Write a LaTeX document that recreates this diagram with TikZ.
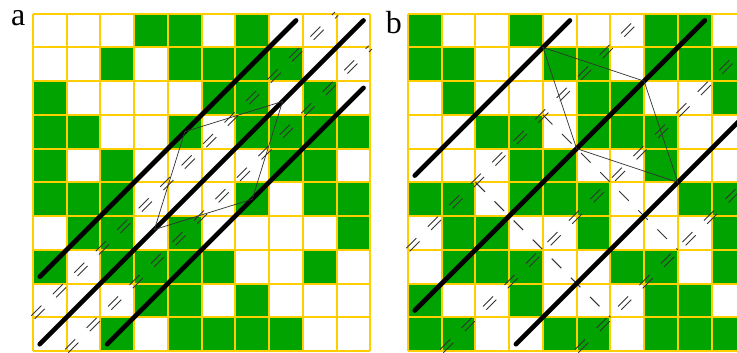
\documentclass[tikz,border=0pt]{standalone}
\usepackage{fontspec}
\setmainfont{Liberation Serif}
\definecolor{cellgreen}{RGB}{0,163,0}
\definecolor{gridgold}{RGB}{255,206,0}
\usetikzlibrary{calc}
\tikzset{
  gridline/.style={gridgold, line width=1.7pt},
  axisline/.style={black, line width=3.9pt, line cap=round},
  cellline/.style={black!80, line width=0.6pt},
  glidestroke/.style={black!80, line width=0.75pt, dash pattern=on 0.42cm off 0.48cm},
  crossline/.style={black!80, line width=0.75pt, dash pattern=on 0.4cm off 0.4cm},
  panellabel/.style={font=\fontsize{27}{27}\selectfont, anchor=base}
}
% pair of dashed strokes either side of a 45 degree line
\newcommand{\glidepair}[2]{%
  \draw[glidestroke, shift={(-0.048,0.048)}] #1 -- #2;
  \draw[glidestroke, shift={(0.048,-0.048)}] #1 -- #2;}

\begin{document}
\begin{tikzpicture}
\useasboundingbox (0,0) rectangle (21.85,10.436);
\clip (0,0) rectangle (21.85,10.436);

\node[panellabel] (lbla) at (0.54,9.69) {a};
\node[panellabel] (lblb) at (11.68,9.45) {b};

% panel a
\begin{scope}[shift={(0.978,0.03)}]
  \foreach [count=\r from 0] \bits in {
    {0,0,0,1,1,0,1,0,0,0},{0,0,1,0,1,1,1,1,0,0},{1,0,0,0,0,1,1,0,1,0},
    {1,1,0,0,1,0,1,1,1,1},{1,0,1,0,0,0,0,1,1,0},{1,1,1,0,0,0,1,0,1,1},
    {0,1,1,0,1,0,0,0,0,1},{1,0,1,1,1,1,0,0,1,0},{0,0,0,1,1,0,1,0,0,0},
    {0,0,1,0,1,1,1,1,0,0}}
    \foreach [count=\c from 0] \v in \bits
      {\ifnum\v=1 \fill[cellgreen] (\c,{9-\r}) rectangle ++(1,1);\fi}
  \draw[gridline] (0,0) grid (10,10);
  \glidepair{(0,1)}{(9,10)}
  \glidepair{(1,0)}{(10,9)}
  \draw[axisline] (0.2,2.2) -- (7.8,9.8);
  \draw[axisline] (0.2,0.2) -- (9.8,9.8);
  \draw[axisline] (2.2,0.2) -- (9.8,7.8);
  \coordinate (qa) at (3.6,3.6);
  \coordinate (qb) at (4.5,6.5);
  \coordinate (qc) at (7.4,7.4);
  \coordinate (qd) at (6.5,4.5);
  \draw[cellline] (qa) -- (qb) -- (qc) -- (qd) -- cycle;
\end{scope}

% panel b
\begin{scope}[shift={(12.096,0.03)}]
  \foreach [count=\r from 0] \bits in {
    {1,0,0,1,0,0,0,1,1,0},{1,1,0,0,1,1,0,1,1,1},{0,1,0,0,0,1,1,0,0,1},
    {0,0,1,1,0,1,1,1,0,0},{0,0,0,1,1,0,0,1,0,0},{1,1,0,1,1,1,0,0,1,1},
    {0,1,1,0,0,1,0,0,0,1},{0,1,1,1,0,0,1,1,0,1},{1,0,0,1,0,0,0,1,1,0},
    {1,1,0,0,1,1,0,1,1,1}}
    \foreach [count=\c from 0] \v in \bits
      {\ifnum\v=1 \fill[cellgreen] (\c,{9-\r}) rectangle ++(1,1);\fi}
  \draw[gridline] (0,0) grid (10,10);
  \glidepair{(0,3)}{(7,10)}
  \glidepair{(1,0)}{(10,9)}
  \glidepair{(5,0)}{(10,5)}
  \draw[crossline] (2,5) -- (6,1);
  \draw[crossline] (4,7) -- (8,3);
  \draw[axisline] (0.2,5.2) -- (4.8,9.8);
  \draw[axisline] (0.2,1.2) -- (8.8,9.8);
  \draw[axisline] (3.2,0.2) -- (12.8,9.8);
  \coordinate (ra) at (4,9);
  \coordinate (rb) at (7,8);
  \coordinate (rc) at (8,5);
  \coordinate (rd) at (5,6);
  \draw[cellline] (ra) -- (rb) -- (rc) -- (rd) -- cycle;
\end{scope}
\end{tikzpicture}
\end{document}
